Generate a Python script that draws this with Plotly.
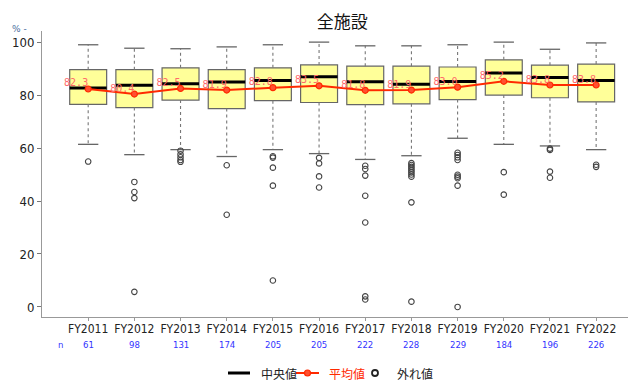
import plotly.graph_objects as go

# Fiscal years and sample sizes
years = ["FY2011", "FY2012", "FY2013", "FY2014", "FY2015", "FY2016",
         "FY2017", "FY2018", "FY2019", "FY2020", "FY2021", "FY2022"]
n_counts = [61, 98, 131, 174, 205, 205, 222, 228, 229, 184, 196, 226]

# Box statistics (%)
q1 = [76.5, 75.3, 78.1, 74.9, 77.9, 77.2, 76.4, 76.7, 78.3, 80.0, 79.0, 77.4]
median = [82.7, 83.7, 84.3, 84.9, 85.5, 86.9, 85.0, 84.1, 85.1, 88.3, 86.6, 85.5]
q3 = [89.6, 89.6, 90.3, 89.6, 90.3, 91.4, 90.9, 90.9, 90.6, 93.3, 91.3, 91.7]
whisker_lo = [61.4, 57.5, 59.4, 56.8, 59.4, 57.9, 55.7, 57.1, 63.7, 61.4, 60.8, 59.4]
whisker_hi = [99.0, 97.7, 97.5, 98.2, 99.0, 100.0, 98.6, 98.6, 99.0, 100.0, 97.3, 99.7]
means = [82.3, 80.4, 82.5, 81.9, 82.8, 83.5, 81.8, 81.9, 83.0, 85.2, 83.8, 83.8]

# Outliers per year
outliers = [
    [54.9],
    [47.2, 43.4, 41.1, 5.7],
    [59.0, 57.6, 56.5, 55.5, 54.8],
    [53.5, 34.8],
    [56.9, 56.4, 52.6, 45.8, 10.0],
    [56.3, 54.2, 49.3, 45.1],
    [53.3, 52.1, 49.6, 42.0, 31.9, 4.0, 2.8],
    [54.3, 53.6, 52.9, 52.2, 51.5, 50.8, 50.0, 49.2, 39.5, 2.0],
    [58.2, 57.4, 56.5, 55.5, 49.9, 49.2, 48.6, 45.8, 0.0],
    [50.9, 42.4],
    [59.8, 59.3, 51.1, 48.8],
    [53.7, 52.9],
]

# Canvas and plot-area geometry (pixels)
W, H = 628, 381
ML, MR, MT, MB = 42, 0, 31, 64
PW, PH = W - ML - MR, H - MT - MB


def px_x(p):
    return (p - ML) / PW


def px_y(p):
    return (H - MB - p) / PH


BOX_HALF = 0.4
CAP_HALF = 0.22
FILL = "#FFFF99"
EDGE = "#666666"
RED = "#FF2A00"
NUM_FONT = "DejaVu Sans Condensed, Roboto, sans-serif"
JP_FONT = "Noto Sans CJK JP"

fig = go.Figure()
shapes = []
for i in range(len(years)):
    shapes.append(dict(type="rect", xref="x", yref="y", layer="below",
                       x0=i - BOX_HALF, x1=i + BOX_HALF, y0=q1[i], y1=q3[i],
                       fillcolor=FILL, line=dict(color=EDGE, width=1.2)))

# Dotted whiskers
wx, wy = [], []
for i in range(len(years)):
    wx += [i, i, None, i, i, None]
    wy += [q3[i], whisker_hi[i], None, q1[i], whisker_lo[i], None]
fig.add_trace(go.Scatter(x=wx, y=wy, mode="lines", showlegend=False, hoverinfo="skip",
                         line=dict(color="#777777", width=1.1, dash="dot")))

# Whisker caps
cx, cy = [], []
for i in range(len(years)):
    cx += [i - CAP_HALF, i + CAP_HALF, None, i - CAP_HALF, i + CAP_HALF, None]
    cy += [whisker_hi[i], whisker_hi[i], None, whisker_lo[i], whisker_lo[i], None]
fig.add_trace(go.Scatter(x=cx, y=cy, mode="lines", showlegend=False, hoverinfo="skip",
                         line=dict(color="#666666", width=1.3)))

# Medians
mx, my = [], []
for i in range(len(years)):
    mx += [i - BOX_HALF, i + BOX_HALF, None]
    my += [median[i], median[i], None]
fig.add_trace(go.Scatter(x=mx, y=my, mode="lines", showlegend=False,
                         line=dict(color="black", width=3)))

# Means
xs = list(range(len(years)))
fig.add_trace(go.Scatter(x=xs, y=means, mode="lines+markers", showlegend=False,
                         line=dict(color=RED, width=2),
                         marker=dict(color="#FF5030", size=6,
                                     line=dict(color=RED, width=1.2))))
fig.add_trace(go.Scatter(x=xs, y=means, mode="text", showlegend=False, hoverinfo="skip",
                         text=[f"{m:.1f}" for m in means], textposition="top left",
                         textfont=dict(color="#FF6A6A", size=10,
                                       family="DejaVu Sans Mono")))

# Outliers
ox, oy = [], []
for i, vals in enumerate(outliers):
    ox += [i] * len(vals)
    oy += vals
fig.add_trace(go.Scatter(x=ox, y=oy, mode="markers", showlegend=False,
                         marker=dict(symbol="circle-open", size=5.5,
                                     color="#444444", line=dict(width=1.1))))

# Sample size row
N_Y = px_y(344)
annotations = [dict(x=px_x(60), y=N_Y, xref="paper", yref="paper", text="n",
                    showarrow=False, xanchor="center", yanchor="middle",
                    font=dict(color="#3333FF", size=9.5, family=NUM_FONT))]
for i, n in enumerate(n_counts):
    annotations.append(dict(x=i, y=N_Y, xref="x", yref="paper", text=str(n),
                            showarrow=False, yanchor="middle",
                            font=dict(color="#3333FF", size=9.5, family=NUM_FONT)))
annotations.append(dict(x=px_x(19), y=px_y(29), xref="paper", yref="paper", text="% -",
                        showarrow=False, xanchor="center", yanchor="middle",
                        font=dict(color="#4A6E9E", size=9, family="DejaVu Sans")))

# Legend row drawn along the bottom edge
LEG_Y = px_y(373)
shapes.append(dict(type="line", xref="paper", yref="paper",
                   x0=px_x(228), x1=px_x(250), y0=LEG_Y, y1=LEG_Y,
                   line=dict(color="black", width=3)))
shapes.append(dict(type="line", xref="paper", yref="paper",
                   x0=px_x(296), x1=px_x(319), y0=LEG_Y, y1=LEG_Y,
                   line=dict(color=RED, width=2)))
shapes.append(dict(type="circle", xref="paper", yref="paper",
                   xsizemode="pixel", ysizemode="pixel",
                   xanchor=px_x(307.5), yanchor=LEG_Y, x0=-3, x1=3, y0=-3, y1=3,
                   fillcolor="#FF5030", line=dict(color=RED, width=1.2)))
shapes.append(dict(type="circle", xref="paper", yref="paper",
                   xsizemode="pixel", ysizemode="pixel",
                   xanchor=px_x(375), yanchor=LEG_Y, x0=-3, x1=3, y0=-3, y1=3,
                   line=dict(color="#222222", width=1.8)))
for label, x_left, color in [("中央値", 259, "#222222"), ("平均値", 327, RED),
                             ("外れ値", 395, "#222222")]:
    annotations.append(dict(x=px_x(x_left), y=LEG_Y, xref="paper", yref="paper",
                            text=label, showarrow=False, xanchor="left",
                            yanchor="middle",
                            font=dict(color=color, size=12, family=JP_FONT)))

fig.update_layout(
    width=W, height=H,
    margin=dict(l=ML, r=MR, t=MT, b=MB),
    paper_bgcolor="white", plot_bgcolor="white",
    shapes=shapes,
    annotations=annotations,
    showlegend=False,
    title=dict(text="全施設", x=0.545, xref="container", xanchor="center",
               y=1 - 22 / H, yref="container", yanchor="middle",
               font=dict(size=17, color="#111111", family=JP_FONT)),
    xaxis=dict(range=[-1.0, 11.69], tickmode="array", tickvals=xs, ticktext=years,
               showgrid=False, zeroline=False, showline=True, linecolor="#999999",
               ticks="outside", ticklen=3, tickcolor="#999999", ticklabelstandoff=-2,
               tickfont=dict(size=12, color="#222222", family=NUM_FONT)),
    yaxis=dict(range=[-3.8, 104.2], tickvals=[0, 20, 40, 60, 80, 100],
               showgrid=False, zeroline=False, showline=True, linecolor="#999999",
               ticks="outside", ticklen=4, tickcolor="#777777",
               tickfont=dict(size=13, color="#222222", family=NUM_FONT)),
)

fig.write_html("out.html")
